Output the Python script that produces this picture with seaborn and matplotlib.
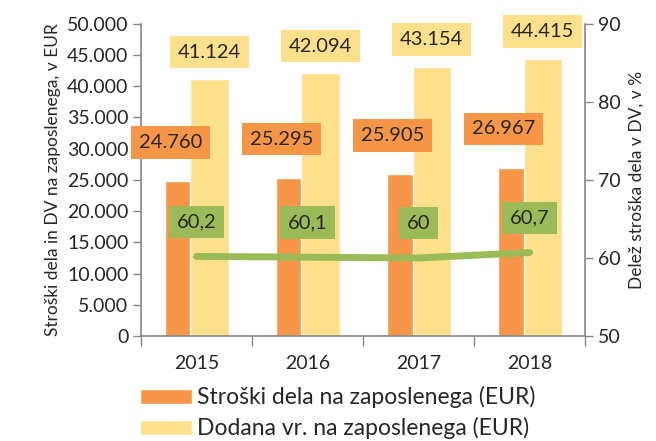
import pandas as pd
import numpy as np
import seaborn as sns
import matplotlib.pyplot as plt
from matplotlib.ticker import FuncFormatter, FixedLocator

# podatki
leta = ["2015", "2016", "2017", "2018"]
stroski_dela = [24760, 25295, 25905, 26967]
dodana_vr = [41124, 42094, 43154, 44415]
delez = [60.2, 60.1, 60.0, 60.7]
delez_oznake = ["60,2", "60,1", "60", "60,7"]

serija_stroski = "Stroški dela na zaposlenega (EUR)"
serija_dodana = "Dodana vr. na zaposlenega (EUR)"

c_orange = "#F79646"
c_yellow = "#FDE08C"
c_green = "#9BBB59"
c_axis = "#868686"

sns.set_theme(style="white")
plt.rcParams["font.family"] = ["Lato", "DejaVu Sans"]

df = pd.DataFrame({
    "leto": leta * 2,
    "vrednost": stroski_dela + dodana_vr,
    "serija": [serija_stroski] * 4 + [serija_dodana] * 4,
})

fig = plt.figure(figsize=(6.56, 4.41), dpi=100)
ax = fig.add_axes([0.215, 0.238, 0.677, 0.708])

sns.barplot(data=df, x="leto", y="vrednost", hue="serija",
            palette=[c_orange, c_yellow], width=0.686, dodge=True,
            saturation=1, errorbar=None, ax=ax)

# bars overlap a bit, like in the excel chart
n = len(leta)
for i, p in enumerate(ax.patches[:2 * n]):
    shift = 0.055 if i < n else -0.055
    p.set_x(p.get_x() + shift)

handles = ax.legend_.legend_handles
labels = [t.get_text() for t in ax.legend_.texts]
ax.legend_.remove()

ax.set_ylim(0, 50000)
ax.set_xlim(-0.5, n - 0.5)
ax.yaxis.set_major_locator(FixedLocator(np.arange(0, 50001, 5000)))
ax.yaxis.set_major_formatter(FuncFormatter(lambda v, pos: f"{v:,.0f}".replace(",", ".")))
ax.set_xlabel("")
ax.set_ylabel("Stroški dela in DV na zaposlenega, v EUR", fontsize=12.5, labelpad=4)
ax.tick_params(axis="y", labelsize=14, length=6, width=1, color=c_axis, direction="out", left=True, pad=3)
ax.tick_params(axis="x", labelsize=14, length=0, pad=14)
ax.xaxis.set_minor_locator(FixedLocator(np.arange(-0.5, n, 1.0)))
ax.tick_params(axis="x", which="minor", length=7, width=1, color=c_axis, direction="out", bottom=True)
for s in ["top", "right"]:
    ax.spines[s].set_visible(False)
for s in ["left", "bottom"]:
    ax.spines[s].set_color(c_axis)
    ax.spines[s].set_linewidth(1.2)

# value labels for bars
for i, p in enumerate(ax.patches[:2 * n]):
    cx = p.get_x() + p.get_width() / 2
    top = p.get_height()
    if i < n:
        ax.annotate(f"{stroski_dela[i]:,}".replace(",", "."), (cx, top),
                    xytext=(-9.5, 28), textcoords="offset points",
                    ha="center", va="center", fontsize=14.5, zorder=5,
                    bbox=dict(boxstyle="square,pad=0.38", fc=c_orange, ec="none"))
    else:
        j = i - n
        ax.annotate(f"{dodana_vr[j]:,}".replace(",", "."), (cx, top),
                    xytext=(0, 19.5), textcoords="offset points",
                    ha="center", va="center", fontsize=14.5, zorder=5,
                    bbox=dict(boxstyle="square,pad=0.38", fc=c_yellow, ec="none"))

# delez na desni osi
ax2 = ax.twinx()
sns.pointplot(x=leta, y=delez, ax=ax2, color=c_green, markers="",
              errorbar=None, linewidth=5, solid_capstyle="round")
ax2.set_ylim(50, 90)
ax2.set_yticks([50, 60, 70, 80, 90])
ax2.set_ylabel("Delež stroška dela v DV, v %", fontsize=12.5, labelpad=6)
ax2.tick_params(axis="y", labelsize=14, length=6, width=1, color=c_axis, direction="out", right=True, pad=3)
ax2.set_xlim(-0.5, n - 0.5)
for s in ["top", "left", "bottom"]:
    ax2.spines[s].set_visible(False)
ax2.spines["right"].set_color(c_axis)
ax2.spines["right"].set_linewidth(1.2)
ax2.grid(False)

for i, v in enumerate(delez):
    ax2.annotate(delez_oznake[i], (i, v), xytext=(0, 25), textcoords="offset points",
                 ha="center", va="center", fontsize=14.5, zorder=6,
                 bbox=dict(boxstyle="square,pad=0.38", fc=c_green, ec="none"))

fig.legend(handles, labels, loc="upper left", bbox_to_anchor=(0.213, 0.124),
           frameon=False, fontsize=16.5, handlelength=2.3, handleheight=0.65,
           handletextpad=0.22, labelspacing=0.38, borderaxespad=0, borderpad=0)

fig.savefig("out.png", dpi=100)
